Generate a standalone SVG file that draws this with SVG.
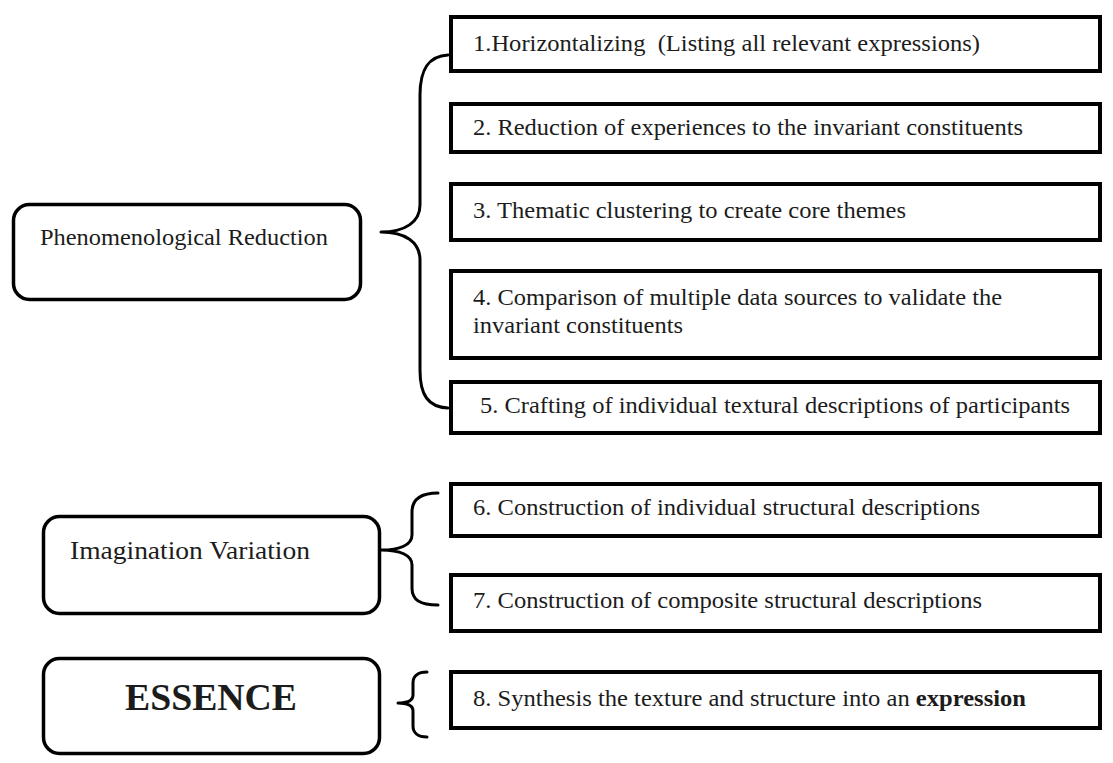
<svg xmlns="http://www.w3.org/2000/svg" width="1113" height="763" viewBox="0 0 1113 763">
<style>
.bg{fill:#ffffff}
.step{fill:#ffffff;stroke:#000;stroke-width:4}
.phase{fill:#ffffff;stroke:#000;stroke-width:3.5}
.t{font-family:"Liberation Serif","Times New Roman",serif;font-size:23px;fill:#1c1c1c}
.pt{font-family:"Liberation Serif","Times New Roman",serif;fill:#1c1c1c}
.brace{fill:none;stroke:#000;stroke-width:3;stroke-linecap:round;stroke-linejoin:round}
</style>
<rect class="bg" x="0" y="0" width="1113" height="763"/>

<g id="phase-reduction">
<rect class="phase" x="13.5" y="204.5" width="347" height="95" rx="16"/>
<text class="pt" x="40" y="245" font-size="23" textLength="288" lengthAdjust="spacingAndGlyphs">Phenomenological Reduction</text>
</g>
<g id="phase-imagination">
<rect class="phase" x="43.5" y="516.5" width="336" height="97" rx="16"/>
<text class="pt" x="70" y="559" font-size="26" textLength="240" lengthAdjust="spacingAndGlyphs">Imagination Variation</text>
</g>
<g id="phase-essence">
<rect class="phase" x="43.5" y="658.5" width="336" height="95" rx="16"/>
<text class="pt" x="125" y="710" font-size="37" font-weight="bold" textLength="172" lengthAdjust="spacingAndGlyphs">ESSENCE</text>
</g>

<g id="step1">
<rect class="step" x="451" y="17" width="649" height="54"/>
<text class="t" x="473" y="51" xml:space="preserve" textLength="507" lengthAdjust="spacingAndGlyphs">1.Horizontalizing  (Listing all relevant expressions)</text>
</g>
<g id="step2">
<rect class="step" x="451" y="104" width="649" height="48"/>
<text class="t" x="473" y="135" textLength="550" lengthAdjust="spacingAndGlyphs">2. Reduction of experiences to the invariant constituents</text>
</g>
<g id="step3">
<rect class="step" x="451" y="184" width="649" height="56"/>
<text class="t" x="473" y="218" textLength="433" lengthAdjust="spacingAndGlyphs">3. Thematic clustering to create core themes</text>
</g>
<g id="step4">
<rect class="step" x="451" y="271" width="649" height="87"/>
<text class="t" x="473" y="305" textLength="529" lengthAdjust="spacingAndGlyphs">4. Comparison of multiple data sources to validate the</text>
<text class="t" x="473" y="333" textLength="210" lengthAdjust="spacingAndGlyphs">invariant constituents</text>
</g>
<g id="step5">
<rect class="step" x="451" y="382" width="649" height="51"/>
<text class="t" x="480" y="413" textLength="590" lengthAdjust="spacingAndGlyphs">5. Crafting of individual textural descriptions of participants</text>
</g>
<g id="step6">
<rect class="step" x="451" y="484" width="649" height="52"/>
<text class="t" x="473" y="515" textLength="507" lengthAdjust="spacingAndGlyphs">6. Construction of individual structural descriptions</text>
</g>
<g id="step7">
<rect class="step" x="451" y="575" width="649" height="56"/>
<text class="t" x="473" y="608" textLength="509" lengthAdjust="spacingAndGlyphs">7. Construction of composite structural descriptions</text>
</g>
<g id="step8">
<rect class="step" x="451" y="672" width="649" height="56"/>
<text class="t" x="473" y="706" textLength="553" lengthAdjust="spacingAndGlyphs">8. Synthesis the texture and structure into an <tspan font-weight="bold">expression</tspan></text>
</g>

<g id="connectors">
<path class="brace" d="M448,55 C428,56 420,70 420,95 L420,205 C420,222 405,232 381,232 C405,232 420,242 420,260 L420,370 C420,395 428,407 448,408"/>
<path class="brace" d="M438,493 C420,493 412,500 412,512 L412,535 C412,545 400,550 381,550 C400,550 412,555 412,565 L412,588 C412,600 420,605 438,605"/>
<path class="brace" d="M427,672 C418,672 413,676 413,683 L413,695 C413,700 408,703 398,703 C408,703 413,706 413,711 L413,726 C413,733 418,737 427,737"/>
</g>
</svg>
